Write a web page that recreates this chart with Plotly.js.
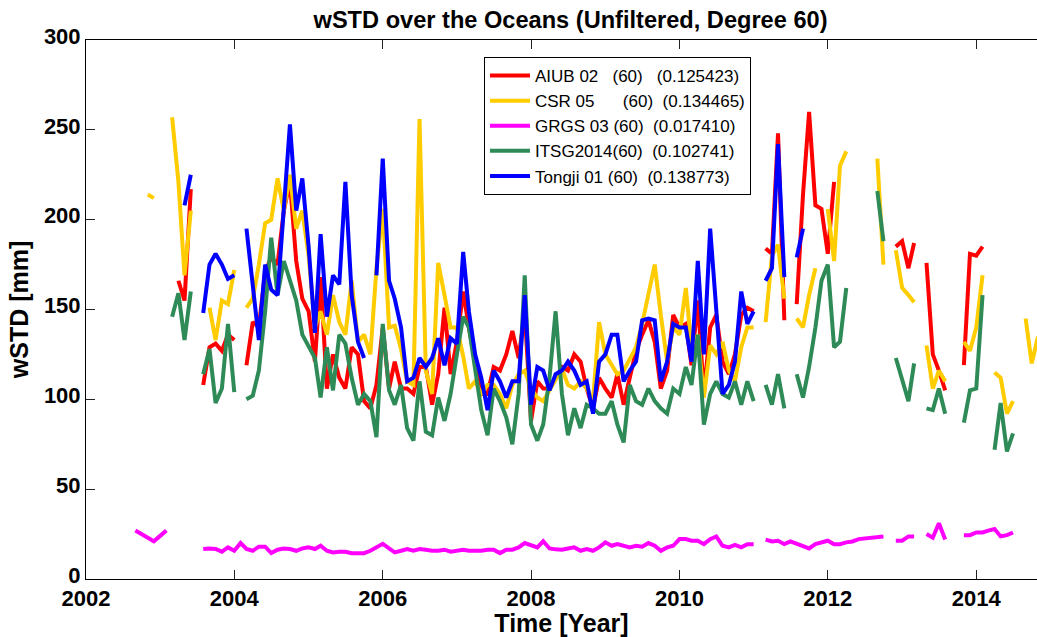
<!DOCTYPE html>
<html>
<head>
<meta charset="utf-8">
<script src="https://cdn.plot.ly/plotly-3.0.1.min.js"></script>
<style>html,body{margin:0;padding:0;background:#fff;}#chart{width:1037px;height:637px;}</style>
</head>
<body>
<div id="chart"></div>
<script>
// Monthly series, first entry = June 2002, last = Nov 2014 (null = no solution)
const firstYear = 2002, firstMonth = 6;

const aiub = [
  null,null,null,null,null,null,null,
  null,null,null,166,155,217,null,108,129,131,127,136,
  133,null,119,143,140,171,179,175,205,221,177,156,
  149,121,168,106,125,112,106,129,125,99,95,108,
  140,106,121,106,106,103,118,118,97,114,151,114,
  132,160,140,121,103,103,118,116,125,138,123,149,
  88,110,106,106,112,118,116,125,121,106,95,112,
  106,101,114,97,112,127,136,144,132,106,116,147,
  140,142,119,155,103,140,147,121,114,125,147,151,
  149,null,184,181,248,144,null,153,214,260,208,206,
  181,221,null,null,null,null,null,null,null,null,null,185,
  188,173,187,null,176,125,116,105,null,null,119,181,
  180,185,null,null,null,null,null,null,null,null,null
];
const csr = [
  null,null,null,null,null,214,212,
  null,null,257,221,169,205,null,null,151,133,155,153,
  172,null,151,156,175,198,200,223,205,225,195,205,
  180,140,149,136,158,143,136,166,132,136,125,173,
  206,140,141,128,110,108,256,116,103,176,158,140,
  140,124,106,110,103,108,108,103,95,108,114,116,
  106,101,99,105,110,117,108,106,110,106,99,143,
  125,119,114,116,123,129,142,158,175,147,121,140,
  136,162,129,136,101,130,125,132,116,110,129,140,
  140,null,143,180,186,156,null,145,140,158,173,null,
  206,177,230,238,null,null,null,null,234,175,null,183,
  162,158,154,null,130,106,116,110,null,null,132,127,
  140,169,null,115,112,92,99,null,145,120,135
];
const grgs = [
  null,null,null,27,25,23,21,
  24,27,null,null,null,null,null,16.7,17,16.7,15.2,17.6,
  15.7,20,16.7,15.7,18,18,14.4,16.3,17,16.7,15.7,17,
  17.6,16.7,18.5,15.7,14.8,15.2,15.2,14.4,14.4,14.4,15.7,17.6,
  19.6,17,14.8,15.7,16.7,15.7,16.7,16.3,15.7,15.7,16.3,15.2,
  15.7,16.3,15.7,15.7,15.7,16.3,16.3,14.4,16.3,16.3,17.6,20,
  19,17.6,21,17,16.5,16.3,17,17.6,15.7,16.7,15.7,17.6,
  20.4,18.5,19.4,18.5,17.6,18.5,18,20,18.5,15.7,17.6,18.5,
  22.2,22.2,21.3,21.3,19.4,22.2,23.7,18.5,17.6,19,17.6,19.4,
  19.4,null,21.9,20.9,21.3,19.4,20.9,19.4,18.5,17,19.4,20.4,
  21.3,19.4,19.4,20.4,20.9,22.2,22.6,22.6,23.3,23.7,null,21.3,
  21.3,23.7,23.7,null,25,23,31,22,null,null,24.4,24.4,
  25.9,25.9,26.9,27.8,23.7,24.4,25.9,null,null,null,null
];
const itsg = [
  null,null,null,null,null,null,null,
  null,null,146,159,133,160,null,114,128,98,106,142,
  104,null,100,102,116,149,190,158,177,166,155,136,
  129,123,101,129,105,136,131,112,97,103,99,79,
  142,105,97,108,84,77,110,82,80,101,88,103,
  125,146,140,118,94,80,106,99,90,75,103,169,
  86,77,86,112,149,103,80,95,84,97,95,92,
  92,99,86,76,108,99,97,106,99,95,92,106,
  103,118,108,136,86,103,110,103,101,110,97,110,
  99,null,108,97,114,95,null,114,101,118,140,166,
  175,129,132,162,null,null,null,null,216,188,null,123,
  111,99,120,null,95,94,106,92,null,null,87,105,
  106,158,null,72,98,71,81,null,null,null,null
];
const tongji = [
  null,null,null,null,null,null,null,
  null,null,null,null,208,225,null,148,175,181,175,167,
  169,null,195,165,133,175,161,158,205,253,205,223,
  185,137,192,146,169,164,221,158,132,123,null,169,
  234,166,156,140,110,112,123,118,123,134,119,134,
  131,182,149,125,112,94,116,110,101,110,110,158,
  97,118,116,105,114,116,121,116,108,110,92,121,
  125,136,136,110,116,121,144,145,144,110,121,142,
  140,140,121,177,125,195,149,103,108,121,160,142,
  149,null,166,173,242,168,null,179,195,null,null,null,
  null,null,null,null,null,null,null,null,null,null,null,null,
  null,null,null,null,null,null,null,null,null,null,null,null,
  null,null,null,null,null,null,null,null,null,null,null
];

const names = [
  'AIUB 02\u00A0\u00A0\u00A0(60)\u00A0\u00A0\u00A0(0.125423)',
  'CSR 05\u00A0\u00A0\u00A0\u00A0\u00A0\u00A0(60)\u00A0\u00A0(0.134465)',
  'GRGS 03 (60)\u00A0\u00A0(0.017410)',
  'ITSG2014(60)\u00A0\u00A0(0.102741)',
  'Tongji 01 (60)\u00A0\u00A0(0.138773)'
];
const series = [aiub, csr, grgs, itsg, tongji];
const colors = ['#ff0000', '#ffcc00', '#ff00ff', '#2e8b57', '#0000ff'];

function monthDate(i) {
  const m0 = (firstMonth - 1) + i;
  const y = firstYear + Math.floor(m0 / 12);
  const m = (m0 % 12) + 1;
  return y + '-' + String(m).padStart(2, '0') + '-01';
}
const dates = aiub.map((_, i) => monthDate(i));

const FONT = 'Liberation Sans, Arial, sans-serif';
const traces = series.map((s, j) => ({
  x: dates, y: s, name: names[j], type: 'scatter', mode: 'lines',
  legendgroup: 'g' + j,
  line: {color: colors[j], width: 4},
  connectgaps: false, hoverinfo: 'skip'
}));

const layout = {
  width: 1037, height: 637,
  margin: {l: 86, r: 0, t: 40, b: 58},
  paper_bgcolor: '#fff', plot_bgcolor: '#fff',
  font: {family: FONT, color: '#000'},
  title: {
    text: 'wSTD over the Oceans (Unfiltered, Degree 60)',
    font: {family: FONT, size: 23.6, weight: 'bold', color: '#000'},
    xref: 'paper', x: 0.5095, xanchor: 'center',
    yref: 'container', y: 1 - 20 / 637, yanchor: 'middle'
  },
  xaxis: {
    type: 'date',
    range: ['2002-01-01', '2014-10-27'],
    tick0: '2002-01-01', dtick: 'M24', tickformat: '%Y',
    ticks: 'inside', ticklen: 9, tickcolor: '#222', tickwidth: 1,
    showline: true, linecolor: '#000', linewidth: 1, mirror: 'ticks',
    showgrid: false, zeroline: false,
    tickfont: {family: FONT, size: 22, weight: 'bold', color: '#000'},
    title: {text: 'Time [Year]', font: {family: FONT, size: 25, weight: 'bold', color: '#000'}, standoff: 4}
  },
  yaxis: {
    range: [0, 300], tick0: 0, dtick: 50,
    ticks: 'inside', ticklen: 9, tickcolor: '#222', tickwidth: 1,
    showline: true, linecolor: '#000', linewidth: 1, mirror: false,
    showgrid: false, zeroline: false, ticklabelshift: -4,
    tickfont: {family: FONT, size: 22, weight: 'bold', color: '#000'},
    title: {text: 'wSTD [mm]', font: {family: FONT, size: 25, weight: 'bold', color: '#000'}, standoff: 8}
  },
  legend: {
    x: 0.4185, y: 0.9685, xanchor: 'left', yanchor: 'top',
    bgcolor: '#fff', bordercolor: '#000', borderwidth: 1,
    font: {family: FONT, size: 17, color: '#000'},
    tracegroupgap: 4, traceorder: 'normal', itemwidth: 40
  },
  showlegend: true
};

Plotly.newPlot('chart', traces, layout, {displayModeBar: false, staticPlot: true});
</script>
</body>
</html>
